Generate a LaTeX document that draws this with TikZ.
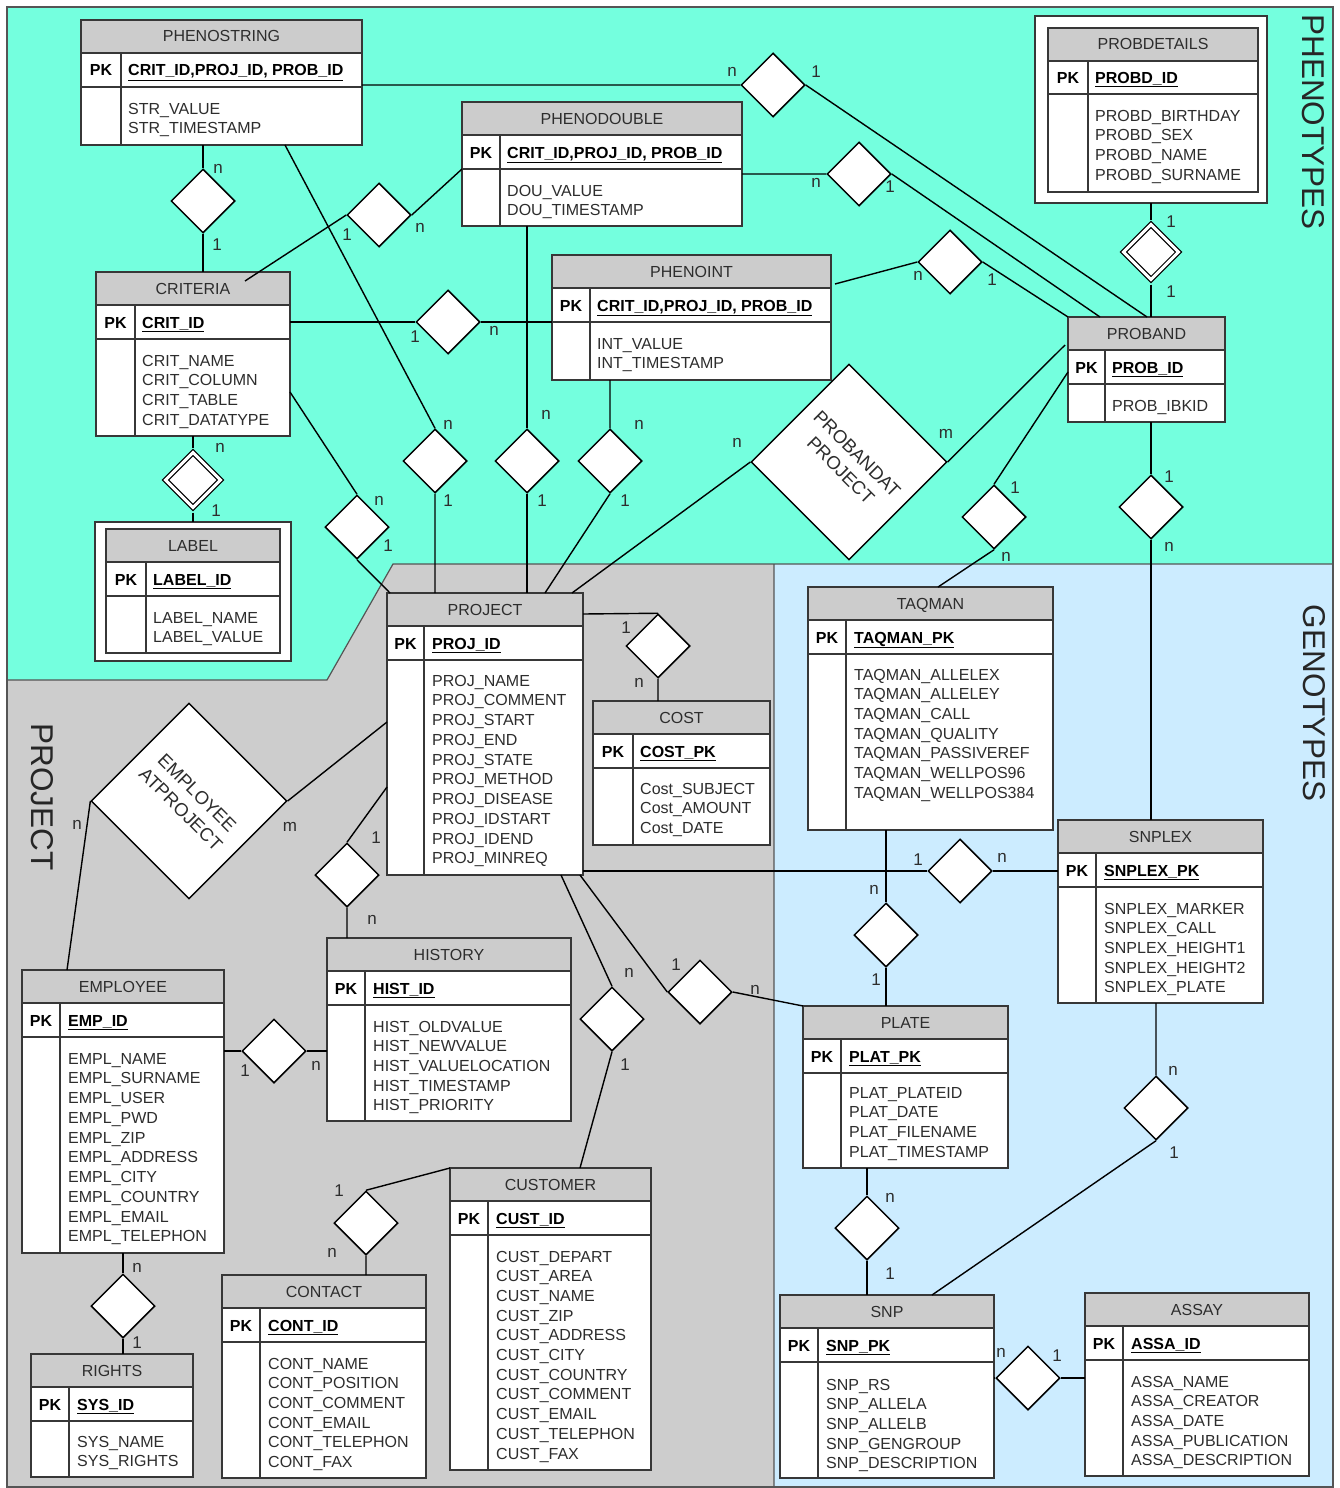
\documentclass[tikz,border=0pt]{standalone}
\usepackage{fontspec}
\setmainfont{Liberation Sans}
\usetikzlibrary{shapes.geometric,calc}
\definecolor{phenoc}{RGB}{116,255,222}
\definecolor{genoc}{RGB}{204,236,255}
\definecolor{projc}{RGB}{205,205,205}
\definecolor{hdrgray}{RGB}{204,204,204}
\definecolor{framec}{RGB}{55,55,55}
\definecolor{txtc}{RGB}{45,45,45}
\definecolor{zonec}{RGB}{85,85,85}

\begin{document}
\begin{tikzpicture}[x=1pt, y=-1pt,
  erbox/.style={draw=framec, line width=1.3pt, fill=white, inner sep=0pt, outer sep=0pt, anchor=north west},
  erhead/.style={fill=hdrgray, draw=framec, line width=1.3pt},
  erline/.style={draw=framec, line width=1.3pt},
  ertitle/.style={anchor=base, inner sep=0pt, text=txtc, font=\fontsize{16}{19}\selectfont},
  erpk/.style={anchor=base, inner sep=0pt, font=\bfseries\fontsize{16}{19}\selectfont},
  erkey/.style={anchor=base west, inner sep=0pt, font=\bfseries\fontsize{16}{19}\selectfont},
  erattr/.style={anchor=base west, inner sep=0pt, text=txtc, font=\fontsize{16}{19}\selectfont},
  rel/.style={diamond, aspect=1, draw=black, line width=1.5pt, fill=white, minimum size=64pt, inner sep=0pt},
  wrel/.style={rel, line width=1.2pt, double=white, double distance=3pt, minimum size=58pt, outer sep=3.5pt},
  bigrel/.style={rectangle, draw=black, line width=1.5pt, fill=white, minimum size=138pt, inner sep=0pt,
    align=center, text=txtc, font=\fontsize{18.5}{23}\selectfont},
  link/.style={draw=black, line width=1.4pt},
  card/.style={inner sep=0pt, text=txtc, font=\fontsize{17}{20}\selectfont},
  zoneline/.style={draw=zonec, line width=1.2pt},
  zone/.style={inner sep=0pt, rotate=-90, text=black!85, font=\fontsize{31.5}{36}\selectfont}]

\useasboundingbox (0,0) rectangle (1339,1488);
\fill[white] (0,0) rectangle (1339,1488);

% areas
\fill[phenoc] (7,7) -- (1333,7) -- (1333,564) -- (393,564) -- (327,680) -- (7,680) -- cycle;
\fill[projc] (7,680) -- (327,680) -- (393,564) -- (774,564) -- (774,1487) -- (7,1487) -- cycle;
\fill[genoc] (774,564) rectangle (1333,1487);
\draw[zoneline] (7,7) rectangle (1333,1487);
\draw[zoneline] (7,680) -- (327,680) -- (393,564) -- (1333,564) (774,564) -- (774,1487);

\node[zone] (zpheno) at (1313,122) {PHENOTYPES};
\node[zone] (zgeno) at (1314,703) {GENOTYPES};
\node[zone] (zproj) at (42,797) {PROJECT};

%%%%%%%%%%%%%%%%%%%%%%%%%%%%%%
% PHENOSTRING
\node[erbox, minimum width=281pt, minimum height=125pt] (pstr) at (81,20) {};
\filldraw[erhead] (81,20) rectangle (362,53);
\draw[erline] (81,87) -- (362,87) (121,53) -- (121,145);
\node[ertitle] (pstr-t) at (221.5,42) {PHENOSTRING};
\node[erpk] (pstr-pk) at (101,76) {PK};
\node[erkey] (pstr-k) at (128,76) {\underline{CRIT\_ID,PROJ\_ID, PROB\_ID}};
\foreach \a [count=\i from 0] in {STR\_VALUE,STR\_TIMESTAMP}
  \node[erattr] (pstr-\i) at (128,114+19.7*\i) {\a};

% PHENODOUBLE
\node[erbox, minimum width=280pt, minimum height=124pt] (pdou) at (462,102) {};
\filldraw[erhead] (462,102) rectangle (742,135);
\draw[erline] (462,169) -- (742,169) (500,135) -- (500,226);
\node[ertitle] (pdou-t) at (602,124) {PHENODOUBLE};
\node[erpk] (pdou-pk) at (481,158) {PK};
\node[erkey] (pdou-k) at (507,158) {\underline{CRIT\_ID,PROJ\_ID, PROB\_ID}};
\foreach \a [count=\i from 0] in {DOU\_VALUE,DOU\_TIMESTAMP}
  \node[erattr] (pdou-\i) at (507,196+19.7*\i) {\a};

% PHENOINT
\node[erbox, minimum width=279pt, minimum height=125pt] (pint) at (552,255) {};
\filldraw[erhead] (552,255) rectangle (831,288);
\draw[erline] (552,322) -- (831,322) (590,288) -- (590,380);
\node[ertitle] (pint-t) at (691.5,277) {PHENOINT};
\node[erpk] (pint-pk) at (571,311) {PK};
\node[erkey] (pint-k) at (597,311) {\underline{CRIT\_ID,PROJ\_ID, PROB\_ID}};
\foreach \a [count=\i from 0] in {INT\_VALUE,INT\_TIMESTAMP}
  \node[erattr] (pint-\i) at (597,349+19.7*\i) {\a};

% CRITERIA
\node[erbox, minimum width=194pt, minimum height=164pt] (crit) at (96,272) {};
\filldraw[erhead] (96,272) rectangle (290,305);
\draw[erline] (96,339) -- (290,339) (135,305) -- (135,436);
\node[ertitle] (crit-t) at (193,294) {CRITERIA};
\node[erpk] (crit-pk) at (115.5,328) {PK};
\node[erkey] (crit-k) at (142,328) {\underline{CRIT\_ID}};
\foreach \a [count=\i from 0] in {CRIT\_NAME,CRIT\_COLUMN,CRIT\_TABLE,CRIT\_DATATYPE}
  \node[erattr] (crit-\i) at (142,366+19.7*\i) {\a};

% LABEL
\node[erbox, minimum width=196pt, minimum height=139pt] (lab) at (95,522) {};
\draw[erline, fill=white] (106,529) rectangle (280,653);
\filldraw[erhead] (106,529) rectangle (280,562);
\draw[erline] (106,596) -- (280,596) (146,562) -- (146,653);
\node[ertitle] (lab-t) at (193,551) {LABEL};
\node[erpk] (lab-pk) at (126,585) {PK};
\node[erkey] (lab-k) at (153,585) {\underline{LABEL\_ID}};
\foreach \a [count=\i from 0] in {LABEL\_NAME,LABEL\_VALUE}
  \node[erattr] (lab-\i) at (153,623+19.7*\i) {\a};

% PROBDETAILS
\node[erbox, minimum width=232pt, minimum height=187pt] (pdet) at (1035,16) {};
\draw[erline, fill=white] (1048,28) rectangle (1258,192);
\filldraw[erhead] (1048,28) rectangle (1258,61);
\draw[erline] (1048,94) -- (1258,94) (1088,61) -- (1088,192);
\node[ertitle] (pdet-t) at (1153,50) {PROBDETAILS};
\node[erpk] (pdet-pk) at (1068,83) {PK};
\node[erkey] (pdet-k) at (1095,83) {\underline{PROBD\_ID}};
\foreach \a [count=\i from 0] in {PROBD\_BIRTHDAY,PROBD\_SEX,PROBD\_NAME,PROBD\_SURNAME}
  \node[erattr] (pdet-\i) at (1095,121+19.7*\i) {\a};

% PROBAND
\node[erbox, minimum width=157pt, minimum height=105pt] (prob) at (1068,317) {};
\filldraw[erhead] (1068,317) rectangle (1225,350);
\draw[erline] (1068,384) -- (1225,384) (1105,350) -- (1105,422);
\node[ertitle] (prob-t) at (1146.5,339) {PROBAND};
\node[erpk] (prob-pk) at (1086.5,373) {PK};
\node[erkey] (prob-k) at (1112,373) {\underline{PROB\_ID}};
\node[erattr] (prob-0) at (1112,411) {PROB\_IBKID};

% PROJECT
\node[erbox, minimum width=196pt, minimum height=282pt] (proj) at (387,593) {};
\filldraw[erhead] (387,593) rectangle (583,626);
\draw[erline] (387,660) -- (583,660) (424,626) -- (424,875);
\node[ertitle] (proj-t) at (485,615) {PROJECT};
\node[erpk] (proj-pk) at (405.5,649) {PK};
\node[erkey] (proj-k) at (432,649) {\underline{PROJ\_ID}};
\foreach \a [count=\i from 0] in {PROJ\_NAME,PROJ\_COMMENT,PROJ\_START,PROJ\_END,PROJ\_STATE,
    PROJ\_METHOD,PROJ\_DISEASE,PROJ\_IDSTART,PROJ\_IDEND,PROJ\_MINREQ}
  \node[erattr] (proj-\i) at (432,686+19.75*\i) {\a};

% COST
\node[erbox, minimum width=177pt, minimum height=144pt] (cost) at (593,701) {};
\filldraw[erhead] (593,701) rectangle (770,734);
\draw[erline] (593,768) -- (770,768) (633,734) -- (633,845);
\node[ertitle] (cost-t) at (681.5,723) {COST};
\node[erpk] (cost-pk) at (613,757) {PK};
\node[erkey] (cost-k) at (640,757) {\underline{COST\_PK}};
\foreach \a [count=\i from 0] in {Cost\_SUBJECT,Cost\_AMOUNT,Cost\_DATE}
  \node[erattr] (cost-\i) at (640,794+19.7*\i) {\a};

% TAQMAN
\node[erbox, minimum width=245pt, minimum height=243pt] (taq) at (808,587) {};
\filldraw[erhead] (808,587) rectangle (1053,620);
\draw[erline] (808,654) -- (1053,654) (846,620) -- (846,830);
\node[ertitle] (taq-t) at (930.5,609) {TAQMAN};
\node[erpk] (taq-pk) at (827,643) {PK};
\node[erkey] (taq-k) at (854,643) {\underline{TAQMAN\_PK}};
\foreach \a [count=\i from 0] in {TAQMAN\_ALLELEX,TAQMAN\_ALLELEY,TAQMAN\_CALL,TAQMAN\_QUALITY,
    TAQMAN\_PASSIVEREF,TAQMAN\_WELLPOS96,TAQMAN\_WELLPOS384}
  \node[erattr] (taq-\i) at (854,680+19.7*\i) {\a};

% SNPLEX
\node[erbox, minimum width=205pt, minimum height=183pt] (snplex) at (1058,820) {};
\filldraw[erhead] (1058,820) rectangle (1263,853);
\draw[erline] (1058,887) -- (1263,887) (1096,853) -- (1096,1003);
\node[ertitle] (snplex-t) at (1160.5,842) {SNPLEX};
\node[erpk] (snplex-pk) at (1077,876) {PK};
\node[erkey] (snplex-k) at (1104,876) {\underline{SNPLEX\_PK}};
\foreach \a [count=\i from 0] in {SNPLEX\_MARKER,SNPLEX\_CALL,SNPLEX\_HEIGHT1,SNPLEX\_HEIGHT2,SNPLEX\_PLATE}
  \node[erattr] (snplex-\i) at (1104,914+19.7*\i) {\a};

% PLATE
\node[erbox, minimum width=205pt, minimum height=162pt] (plate) at (803,1006) {};
\filldraw[erhead] (803,1006) rectangle (1008,1039);
\draw[erline] (803,1073) -- (1008,1073) (841,1039) -- (841,1168);
\node[ertitle] (plate-t) at (905.5,1028) {PLATE};
\node[erpk] (plate-pk) at (822,1062) {PK};
\node[erkey] (plate-k) at (849,1062) {\underline{PLAT\_PK}};
\foreach \a [count=\i from 0] in {PLAT\_PLATEID,PLAT\_DATE,PLAT\_FILENAME,PLAT\_TIMESTAMP}
  \node[erattr] (plate-\i) at (849,1098+19.7*\i) {\a};

% SNP
\node[erbox, minimum width=214pt, minimum height=183pt] (snp) at (780,1295) {};
\filldraw[erhead] (780,1295) rectangle (994,1328);
\draw[erline] (780,1362) -- (994,1362) (818,1328) -- (818,1478);
\node[ertitle] (snp-t) at (887,1317) {SNP};
\node[erpk] (snp-pk) at (799,1351) {PK};
\node[erkey] (snp-k) at (826,1351) {\underline{SNP\_PK}};
\foreach \a [count=\i from 0] in {SNP\_RS,SNP\_ALLELA,SNP\_ALLELB,SNP\_GENGROUP,SNP\_DESCRIPTION}
  \node[erattr] (snp-\i) at (826,1390+19.7*\i) {\a};

% ASSAY
\node[erbox, minimum width=224pt, minimum height=183pt] (assay) at (1085,1293) {};
\filldraw[erhead] (1085,1293) rectangle (1309,1326);
\draw[erline] (1085,1360) -- (1309,1360) (1123,1326) -- (1123,1476);
\node[ertitle] (assay-t) at (1197,1315) {ASSAY};
\node[erpk] (assay-pk) at (1104,1349) {PK};
\node[erkey] (assay-k) at (1131,1349) {\underline{ASSA\_ID}};
\foreach \a [count=\i from 0] in {ASSA\_NAME,ASSA\_CREATOR,ASSA\_DATE,ASSA\_PUBLICATION,ASSA\_DESCRIPTION}
  \node[erattr] (assay-\i) at (1131,1387+19.7*\i) {\a};

% HISTORY
\node[erbox, minimum width=244pt, minimum height=183pt] (hist) at (327,938) {};
\filldraw[erhead] (327,938) rectangle (571,971);
\draw[erline] (327,1005) -- (571,1005) (365,971) -- (365,1121);
\node[ertitle] (hist-t) at (449,960) {HISTORY};
\node[erpk] (hist-pk) at (346,994) {PK};
\node[erkey] (hist-k) at (373,994) {\underline{HIST\_ID}};
\foreach \a [count=\i from 0] in {HIST\_OLDVALUE,HIST\_NEWVALUE,HIST\_VALUELOCATION,HIST\_TIMESTAMP,HIST\_PRIORITY}
  \node[erattr] (hist-\i) at (373,1032+19.7*\i) {\a};

% EMPLOYEE
\node[erbox, minimum width=202pt, minimum height=283pt] (emp) at (22,970) {};
\filldraw[erhead] (22,970) rectangle (224,1003);
\draw[erline] (22,1037) -- (224,1037) (60,1003) -- (60,1253);
\node[ertitle] (emp-t) at (123,992) {EMPLOYEE};
\node[erpk] (emp-pk) at (41,1026) {PK};
\node[erkey] (emp-k) at (68,1026) {\underline{EMP\_ID}};
\foreach \a [count=\i from 0] in {EMPL\_NAME,EMPL\_SURNAME,EMPL\_USER,EMPL\_PWD,EMPL\_ZIP,
    EMPL\_ADDRESS,EMPL\_CITY,EMPL\_COUNTRY,EMPL\_EMAIL,EMPL\_TELEPHON}
  \node[erattr] (emp-\i) at (68,1064+19.75*\i) {\a};

% RIGHTS
\node[erbox, minimum width=162pt, minimum height=123pt] (rights) at (31,1354) {};
\filldraw[erhead] (31,1354) rectangle (193,1387);
\draw[erline] (31,1421) -- (193,1421) (69,1387) -- (69,1477);
\node[ertitle] (rights-t) at (112,1376) {RIGHTS};
\node[erpk] (rights-pk) at (50,1410) {PK};
\node[erkey] (rights-k) at (77,1410) {\underline{SYS\_ID}};
\foreach \a [count=\i from 0] in {SYS\_NAME,SYS\_RIGHTS}
  \node[erattr] (rights-\i) at (77,1447+19.7*\i) {\a};

% CONTACT
\node[erbox, minimum width=204pt, minimum height=203pt] (cont) at (222,1275) {};
\filldraw[erhead] (222,1275) rectangle (426,1308);
\draw[erline] (222,1342) -- (426,1342) (260,1308) -- (260,1478);
\node[ertitle] (cont-t) at (324,1297) {CONTACT};
\node[erpk] (cont-pk) at (241,1331) {PK};
\node[erkey] (cont-k) at (268,1331) {\underline{CONT\_ID}};
\foreach \a [count=\i from 0] in {CONT\_NAME,CONT\_POSITION,CONT\_COMMENT,CONT\_EMAIL,CONT\_TELEPHON,CONT\_FAX}
  \node[erattr] (cont-\i) at (268,1369+19.7*\i) {\a};

% CUSTOMER
\node[erbox, minimum width=201pt, minimum height=302pt] (cust) at (450,1168) {};
\filldraw[erhead] (450,1168) rectangle (651,1201);
\draw[erline] (450,1235) -- (651,1235) (488,1201) -- (488,1470);
\node[ertitle] (cust-t) at (550.5,1190) {CUSTOMER};
\node[erpk] (cust-pk) at (469,1224) {PK};
\node[erkey] (cust-k) at (496,1224) {\underline{CUST\_ID}};
\foreach \a [count=\i from 0] in {CUST\_DEPART,CUST\_AREA,CUST\_NAME,CUST\_ZIP,CUST\_ADDRESS,CUST\_CITY,
    CUST\_COUNTRY,CUST\_COMMENT,CUST\_EMAIL,CUST\_TELEPHON,CUST\_FAX}
  \node[erattr] (cust-\i) at (496,1262+19.7*\i) {\a};

%%%%%%%%%%%%%%%%%%%%%%%%%%%%%%
% relationships
\node[rel] (d1) at (773,85) {};
\node[rel] (d2) at (203,201) {};
\node[rel] (d3) at (379,215) {};
\node[rel] (d4) at (859,174) {};
\node[rel] (d5) at (448,322) {};
\node[rel] (d6) at (950,262) {};
\node[wrel] (dp) at (1151,252) {};
\node[wrel] (dl) at (193,480) {};
\node[rel] (d7) at (435,461) {};
\node[rel] (d8) at (357,527) {};
\node[rel] (d9) at (527,461) {};
\node[rel] (d10) at (610,461) {};
\node[bigrel, rotate=-45] (pp) at (849,462) {PROBANDAT\\PROJECT};
\node[rel] (d11) at (994,517) {};
\node[rel] (d12) at (1151,507) {};
\node[rel] (d13) at (658,646) {};
\node[rel] (d14) at (960,871) {};
\node[rel] (d15) at (886,935) {};
\node[rel] (d16) at (700,992) {};
\node[rel] (d17) at (612,1019) {};
\node[rel] (d18) at (347,875) {};
\node[bigrel, rotate=-45] (ep) at (189,801) {EMPLOYEE\\ATPROJECT};
\node[rel] (d19) at (274,1051) {};
\node[rel] (d20) at (123,1306) {};
\node[rel] (d21) at (366,1223) {};
\node[rel] (d22) at (867,1228) {};
\node[rel] (d23) at (1028,1378) {};
\node[rel] (d24) at (1156,1108) {};

% connectors
\draw[link] (pstr.east |- d1) -- (d1.west) (d1.east) -- ($(prob.north west)+(79,0)$);
\draw[link] (pstr.south -| d2) -- (d2.north) (d2.south) -- (crit.north -| d2);
\draw[link] ($(crit.north west)+(149,9)$) -- (d3.west) (d3.east) -- ($(pdou.north west)+(0,67)$);
\draw[link] (pdou.east |- d4) -- (d4.west) (d4.east) -- ($(prob.north west)+(32,0)$);
\draw[link] (crit.east |- d5) -- (d5.west) (d5.east) -- (pint.west |- d5);
\draw[link] ($(pint.north east)+(4,29)$) -- (d6.west) (d6.east) -- (prob.north west);
\draw[link] (pdet.south -| dp) -- (dp.north) (dp.south) -- (prob.north -| dp);
\draw[link] (crit.south -| dl) -- (dl.north) (dl.south) -- (lab.north -| dl);
\draw[link] ($(pstr.south west)+(204,0)$) -- (d7.north) (d7.south) -- (proj.north -| d7);
\draw[link] ($(crit.north east)+(0,120)$) -- (d8.north) (d8.south) -- ($(proj.north west)+(3,0)$);
\draw[link] (pdou.south -| d9) -- (d9.north) (d9.south) -- (proj.north -| d9);
\draw[link] (pint.south -| d10) -- (d10.north) (d10.south) -- ($(proj.north west)+(158,0)$);
\draw[link] ($(proj.north west)+(185,0)$) -- (pp.south west) (pp.north east) -- ($(prob.north west)+(-3,28)$);
\draw[link] ($(taq.north west)+(130,0)$) -- (d11.south) (d11.north) -- ($(prob.north west)+(0,55)$);
\draw[link] (prob.south -| d12) -- (d12.north) (d12.south) -- (snplex.north -| d12);
\draw[link] ($(proj.north east)+(0,21)$) -- (d13.north) (d13.south) -- (cost.north -| d13);
\draw[link] (proj.east |- d14) -- (d14.west) (d14.east) -- (snplex.west |- d14);
\draw[link] (taq.south -| d15) -- (d15.north) (d15.south) -- (plate.north -| d15);
\draw[link] ($(proj.south west)+(193,0)$) -- (d16.west) (d16.east) -- (plate.north west);
\draw[link] ($(proj.south west)+(174,0)$) -- (d17.north) (d17.south) -- ($(cust.north west)+(130,0)$);
\draw[link] ($(proj.north west)+(0,194)$) -- (d18.north) (d18.south) -- (hist.north -| d18);
\draw[link] ($(proj.north west)+(0,129)$) -- (ep.north east) (ep.south west) -- ($(emp.north west)+(45,0)$);
\draw[link] (emp.east |- d19) -- (d19.west) (d19.east) -- (hist.west |- d19);
\draw[link] (emp.south -| d20) -- (d20.north) (d20.south) -- (rights.north -| d20);
\draw[link] (cust.north west) -- (d21.north) (d21.south) -- (cont.north -| d21);
\draw[link] (plate.south -| d22) -- (d22.north) (d22.south) -- (snp.north -| d22);
\draw[link] (snp.east |- d23) -- (d23.west) (d23.east) -- (assay.west |- d23);
\draw[link] (snplex.south -| d24) -- (d24.north) (d24.south) -- ($(snp.north west)+(152,0)$);

% cardinalities
\node[card] (c1) at (732,72) {n};
\node[card] (c2) at (816,72) {1};
\node[card] (c3) at (218,169) {n};
\node[card] (c4) at (217,245) {1};
\node[card] (c5) at (347,235) {1};
\node[card] (c6) at (420,228) {n};
\node[card] (c7) at (816,183) {n};
\node[card] (c8) at (890,187) {1};
\node[card] (c9) at (415,337) {1};
\node[card] (c10) at (494,331) {n};
\node[card] (c11) at (918,276) {n};
\node[card] (c12) at (992,280) {1};
\node[card] (c13) at (1171,222) {1};
\node[card] (c14) at (1171,292) {1};
\node[card] (c15) at (220,448) {n};
\node[card] (c16) at (216,511) {1};
\node[card] (c17) at (448,425) {n};
\node[card] (c18) at (448,501) {1};
\node[card] (c19) at (379,501) {n};
\node[card] (c20) at (388,546) {1};
\node[card] (c21) at (546,415) {n};
\node[card] (c22) at (542,501) {1};
\node[card] (c23) at (639,425) {n};
\node[card] (c24) at (625,501) {1};
\node[card] (c25) at (737,443) {n};
\node[card] (c26) at (946,434) {m};
\node[card] (c27) at (1015,488) {1};
\node[card] (c28) at (1006,557) {n};
\node[card] (c29) at (1169,477) {1};
\node[card] (c30) at (1169,547) {n};
\node[card] (c31) at (626,628) {1};
\node[card] (c32) at (639,683) {n};
\node[card] (c33) at (77,825) {n};
\node[card] (c34) at (290,827) {m};
\node[card] (c35) at (376,838) {1};
\node[card] (c36) at (372,920) {n};
\node[card] (c37) at (918,860) {1};
\node[card] (c38) at (1002,858) {n};
\node[card] (c39) at (874,890) {n};
\node[card] (c40) at (876,980) {1};
\node[card] (c41) at (676,965) {1};
\node[card] (c42) at (755,990) {n};
\node[card] (c43) at (629,973) {n};
\node[card] (c44) at (625,1065) {1};
\node[card] (c45) at (245,1071) {1};
\node[card] (c46) at (316,1066) {n};
\node[card] (c47) at (137,1268) {n};
\node[card] (c48) at (137,1343) {1};
\node[card] (c49) at (339,1191) {1};
\node[card] (c50) at (332,1253) {n};
\node[card] (c51) at (890,1198) {n};
\node[card] (c52) at (890,1274) {1};
\node[card] (c53) at (1001,1353) {n};
\node[card] (c54) at (1057,1356) {1};
\node[card] (c55) at (1173,1071) {n};
\node[card] (c56) at (1174,1153) {1};
\end{tikzpicture}
\end{document}
